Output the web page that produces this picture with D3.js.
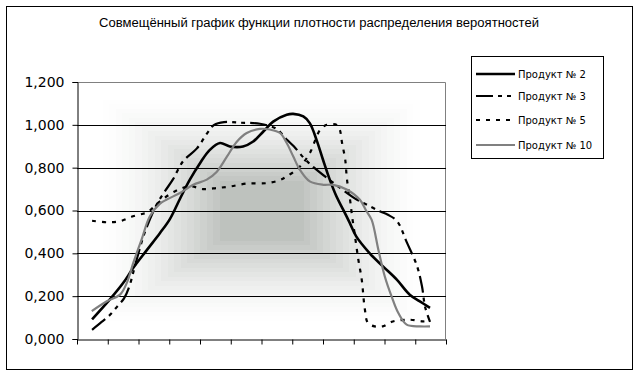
<!DOCTYPE html>
<html>
<head>
<meta charset="utf-8">
<script src="https://cdn.jsdelivr.net/npm/d3@7"></script>
<style>
  body { margin: 0; background: #fff; }
  svg { display: block; }
</style>
</head>
<body>
<svg id="chart" width="639" height="376"></svg>
<script>
// chart data: x is a position along the 12-interval category axis, y is the density
const title = "Совмещённый график функции плотности распределения вероятностей";
const seriesNames = ["Продукт № 2", "Продукт № 3", "Продукт № 5", "Продукт № 10"];
const yTicks = [0, 0.2, 0.4, 0.6, 0.8, 1.0, 1.2];
const xTicks = [0, 1, 2, 3, 4, 5, 6, 7, 8, 9, 10, 11, 12];

const product2 = [
    [0.49, 0.092], [1.07, 0.185], [1.50, 0.261], [1.82, 0.33], [2.27, 0.415], [2.70, 0.495],
    [3.02, 0.56], [3.35, 0.655], [3.67, 0.744], [4.00, 0.821], [4.32, 0.883], [4.65, 0.915],
    [4.97, 0.899], [5.40, 0.899], [5.73, 0.922], [6.06, 0.969], [6.38, 1.015], [6.82, 1.047],
    [7.03, 1.051], [7.36, 1.039], [7.57, 1.008], [7.79, 0.93], [8.00, 0.837], [8.22, 0.744],
    [8.44, 0.665], [8.66, 0.603], [8.87, 0.542], [9.08, 0.479], [9.52, 0.40], [9.95, 0.339],
    [10.40, 0.277], [10.82, 0.207], [11.15, 0.176], [11.48, 0.145]
];
const product3 = [
    [0.49, 0.043], [0.80, 0.08], [1.02, 0.105], [1.30, 0.15], [1.53, 0.19], [1.70, 0.245],
    [1.92, 0.36], [2.21, 0.50], [2.60, 0.63], [2.86, 0.69], [3.12, 0.745], [3.45, 0.83],
    [3.90, 0.89], [4.23, 0.96], [4.46, 1.0], [4.78, 1.013], [5.30, 1.01], [5.95, 1.005],
    [6.50, 0.98], [6.83, 0.93], [7.05, 0.90], [7.38, 0.845], [7.71, 0.80], [8.33, 0.73],
    [9.11, 0.65], [9.43, 0.627], [9.85, 0.596], [10.11, 0.58], [10.41, 0.55], [10.73, 0.45],
    [11.06, 0.34], [11.22, 0.245], [11.32, 0.15], [11.48, 0.08]
];
const product5 = [
    [0.49, 0.552], [0.98, 0.545], [1.40, 0.55], [1.82, 0.573], [2.15, 0.585], [2.28, 0.59],
    [2.70, 0.643], [3.19, 0.69], [3.67, 0.713], [4.10, 0.70], [4.55, 0.705], [4.97, 0.712],
    [5.53, 0.726], [6.18, 0.728], [6.60, 0.742], [6.83, 0.76], [7.25, 0.805], [7.57, 0.868],
    [7.90, 0.975], [8.12, 1.0], [8.45, 1.0], [8.55, 0.975], [8.62, 0.915], [8.72, 0.84],
    [8.78, 0.745], [8.88, 0.65], [8.94, 0.58], [9.04, 0.48], [9.15, 0.37], [9.26, 0.277],
    [9.36, 0.14], [9.46, 0.075], [9.68, 0.059], [9.94, 0.059], [10.27, 0.082], [10.82, 0.09],
    [11.25, 0.082], [11.48, 0.082]
];
const product10 = [
    [0.48, 0.13], [0.97, 0.176], [1.40, 0.207], [1.62, 0.262], [1.83, 0.355], [2.10, 0.464],
    [2.37, 0.573], [2.70, 0.632], [2.92, 0.651], [3.35, 0.682], [3.78, 0.72], [4.22, 0.744],
    [4.54, 0.78], [4.87, 0.85], [5.19, 0.92], [5.52, 0.962], [5.95, 0.981], [6.27, 0.978],
    [6.60, 0.962], [6.82, 0.915], [7.03, 0.853], [7.25, 0.79], [7.57, 0.736], [8.01, 0.72],
    [8.33, 0.72], [8.77, 0.698], [9.20, 0.65], [9.40, 0.60], [9.58, 0.557], [9.80, 0.417],
    [10.01, 0.292], [10.23, 0.199], [10.45, 0.121], [10.72, 0.067], [11.15, 0.059], [11.48, 0.059]
];

const allSeries = [product2, product3, product5, product10];
const seriesStyle = [
    { color: "#000", width: 2.6, dash: null },
    { color: "#000", width: 2.2, dash: "17,5,4,5,4,5" },
    { color: "#000", width: 2.2, dash: "4,6" },
    { color: "#808080", width: 2.2, dash: null }
];

const svg = d3.select("#chart");
const plot = { left: 77, right: 446, top: 82, bottom: 339 };

// outer frame
svg.append("rect")
    .attr("x", 6.5).attr("y", 6.5)
    .attr("width", 626).attr("height", 363)
    .attr("fill", "#fff").attr("stroke", "#000").attr("stroke-width", 1);

svg.append("text")
    .attr("x", 319).attr("y", 27)
    .attr("text-anchor", "middle")
    .attr("font-family", "Liberation Sans, Arial, sans-serif")
    .attr("font-size", 12.5)
    .attr("textLength", 440)
    .attr("lengthAdjust", "spacingAndGlyphs")
    .text(title);

const x = d3.scaleLinear().domain([0, 12]).range([plot.left, plot.right]);
const y = d3.scaleLinear().domain([0, 1.2]).range([plot.bottom, plot.top]);

// "from center" gradient fill of the plot area, as nested rectangles
const bg = svg.append("g").attr("shape-rendering", "crispEdges");
const steps = 22;
const cx = (plot.left + plot.right) / 2, cy = (plot.top + plot.bottom) / 2;
const hw = (plot.right - plot.left) / 2, hh = (plot.bottom - plot.top) / 2;
const innerW = 42, innerH = 30;
const shade = d3.interpolateRgb("#ffffff", "#bec2be");
for (let i = 0; i <= steps; i++) {
    let t = i / steps;
    let w = hw - (hw - innerW) * t;
    let h = hh - (hh - innerH) * t;
    let f = t < 0.15 ? 0 : 0.05 + 0.95 * (t - 0.15) / 0.85;
    bg.append("rect")
        .attr("x", Math.round(cx - w)).attr("y", Math.round(cy - h))
        .attr("width", Math.round(2 * w)).attr("height", Math.round(2 * h))
        .attr("fill", shade(Math.pow(f, 1.7)));
}

// plot area border (top + right in grey)
svg.append("path")
    .attr("d", `M${plot.left},${plot.top + 0.5}H${plot.right - 0.5}V${plot.bottom}`)
    .attr("fill", "none").attr("stroke", "#808080").attr("stroke-width", 1);

// gridlines
svg.append("g")
    .selectAll("line")
    .data(yTicks.filter(d => d > 0 && d < 1.2))
    .join("line")
    .attr("x1", plot.left).attr("x2", plot.right)
    .attr("y1", d => Math.round(y(d)) + 0.5).attr("y2", d => Math.round(y(d)) + 0.5)
    .attr("stroke", "#000").attr("stroke-width", 1);

const fmt = d => d3.format(".3f")(d).replace(".", ",");

const yAxis = svg.append("g")
    .attr("transform", `translate(${plot.left + 0.5},0)`)
    .call(d3.axisLeft(y).tickValues(yTicks).tickFormat(fmt).tickSize(5).tickPadding(8));
yAxis.select(".domain").attr("stroke", "#000");
yAxis.selectAll("text")
    .attr("font-family", "DejaVu Sans, Verdana, sans-serif")
    .attr("font-size", 14)
    .attr("fill", "#000");

const xAxis = svg.append("g")
    .attr("transform", `translate(0,${plot.bottom + 0.5})`)
    .call(d3.axisBottom(x).tickValues(xTicks).tickFormat("").tickSize(5).tickSizeOuter(0));
xAxis.select(".domain").attr("stroke", "#000");

// series lines
const line = d3.line()
    .x(d => x(d[0]))
    .y(d => y(d[1]))
    .curve(d3.curveCatmullRom.alpha(0.5));

svg.append("g")
    .selectAll("path")
    .data(allSeries)
    .join("path")
    .attr("d", line)
    .attr("fill", "none")
    .attr("stroke", (d, i) => seriesStyle[i].color)
    .attr("stroke-width", (d, i) => seriesStyle[i].width)
    .attr("stroke-dasharray", (d, i) => seriesStyle[i].dash)
    .attr("stroke-linejoin", "round");

// legend
const legend = svg.append("g");
legend.append("rect")
    .attr("x", 471.5).attr("y", 56.5)
    .attr("width", 132).attr("height", 102)
    .attr("fill", "#fff").attr("stroke", "#000").attr("stroke-width", 1);

const legendRows = [74, 96, 120, 145];
seriesNames.forEach((name, i) => {
    let ly = legendRows[i];
    legend.append("line")
        .attr("x1", 476).attr("x2", 515)
        .attr("y1", ly).attr("y2", ly)
        .attr("stroke", seriesStyle[i].color)
        .attr("stroke-width", seriesStyle[i].width)
        .attr("stroke-dasharray", seriesStyle[i].dash);
    legend.append("text")
        .attr("x", 518).attr("y", ly)
        .attr("dy", "0.35em")
        .attr("font-family", "DejaVu Sans, Verdana, sans-serif")
        .attr("font-size", 10)
        .text(name);
});
</script>
</body>
</html>
